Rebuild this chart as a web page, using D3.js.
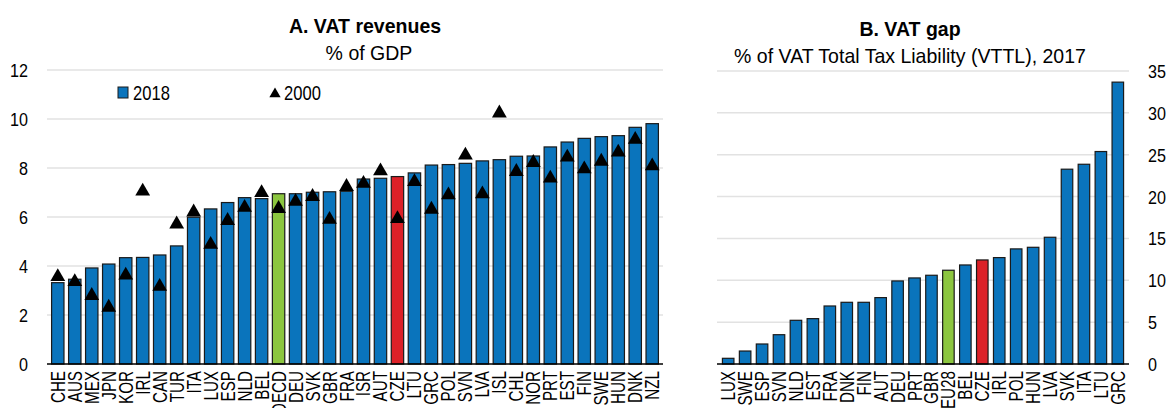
<!DOCTYPE html>
<html>
<head>
<meta charset="utf-8">
<script src="https://cdn.jsdelivr.net/npm/d3@7"></script>
<style>
  body { margin: 0; background: #fff; }
  svg text { font-family: "Liberation Sans", Arial, sans-serif; fill: #000; }
</style>
</head>
<body>
<div id="chart"></div>
<script>
// Panel A data
var countriesA = ["CHE","AUS","MEX","JPN","KOR","IRL","CAN","TUR","ITA","LUX","ESP","NLD","BEL","OECD","DEU","SVK","GBR","FRA","ISR","AUT","CZE","LTU","GRC","POL","SVN","LVA","ISL","CHL","NOR","PRT","EST","FIN","SWE","HUN","DNK","NZL"];
var vat2018 = [3.32,3.46,3.92,4.08,4.34,4.35,4.45,4.82,5.99,6.33,6.59,6.79,6.75,6.95,6.95,7.01,7.03,7.05,7.55,7.58,7.65,7.80,8.12,8.14,8.19,8.29,8.34,8.48,8.49,8.86,9.06,9.21,9.28,9.32,9.66,9.81];
var vat2000 = [3.56,3.36,2.79,2.31,3.62,7.05,3.16,5.71,6.20,4.88,5.85,6.39,6.99,6.34,6.63,6.83,5.90,7.24,7.37,7.88,5.93,7.44,6.31,6.90,8.52,6.94,10.24,7.85,8.22,7.58,8.44,7.96,8.27,8.64,9.16,8.08];
var ticksA = [0,2,4,6,8,10,12];

// Panel B data
var countriesB = ["LUX","SWE","ESP","SVN","NLD","EST","FRA","DNK","FIN","AUT","DEU","PRT","GBR","EU28","BEL","CZE","IRL","POL","HUN","LVA","SVK","ITA","LTU","GRC"];
var vatGap = [0.68,1.55,2.39,3.5,5.22,5.42,6.93,7.37,7.37,7.93,9.92,10.28,10.6,11.2,11.83,12.43,12.71,13.75,13.94,15.14,23.27,23.86,25.38,33.67];
var ticksB = [0,5,10,15,20,25,30,35];

var blue = "#0A74BC", green = "#8CC63F", red = "#DC2128";
function barColor(c) {
  if (c === "OECD" || c === "EU28") return green;
  if (c === "CZE") return red;
  return blue;
}

// narrow-looking text: no Arial Narrow here, so squeeze Liberation Sans
var sqTick = 0.85, sqLab = 0.78;

var svg = d3.select("#chart").append("svg")
  .attr("width", 1170)
  .attr("height", 408);

// ---------- Panel A ----------
var xA = d3.scaleBand().domain(countriesA).range([47, 663]).padding(0.27);
var yA = d3.scaleLinear().domain([0, 12]).range([364, 70]);

var gA = svg.append("g");

gA.selectAll(".grid").data(ticksA.slice(1)).enter().append("line")
  .attr("x1", 47).attr("x2", 663)
  .attr("y1", d => yA(d)).attr("y2", d => yA(d))
  .attr("stroke", "#e2e2e2").attr("stroke-width", 1.5);

gA.selectAll(".tick").data(ticksA).enter().append("text")
  .attr("transform", d => `translate(28,${yA(d) + 7}) scale(${sqTick},1)`)
  .attr("text-anchor", "end")
  .style("font-size", "19px")
  .text(d => d);

gA.selectAll(".bar").data(countriesA).enter().append("rect")
  .attr("x", d => xA(d))
  .attr("y", (d, i) => yA(vat2018[i]))
  .attr("width", xA.bandwidth())
  .attr("height", (d, i) => yA(0) - yA(vat2018[i]))
  .attr("fill", d => barColor(d))
  .attr("stroke", "#1a1a1a").attr("stroke-width", 1.2);

var tri = d3.symbol().type(d3.symbolTriangle).size(95);
gA.selectAll(".mark").data(countriesA).enter().append("path")
  .attr("d", tri)
  .attr("transform", (d, i) => `translate(${xA(d) + xA.bandwidth() / 2},${yA(vat2000[i])})`)
  .attr("fill", "#000");

gA.append("line")
  .attr("x1", 47).attr("x2", 663)
  .attr("y1", yA(0)).attr("y2", yA(0))
  .attr("stroke", "#000").attr("stroke-width", 1.5);

gA.selectAll(".xlab").data(countriesA).enter().append("text")
  .attr("transform", d => `translate(${xA(d) + xA.bandwidth() / 2 + 7},371) rotate(-90) scale(${sqLab},1)`)
  .attr("text-anchor", "end")
  .style("font-size", "19.5px")
  .text(d => d);

// legend
gA.append("rect").attr("x", 118).attr("y", 87).attr("width", 10).attr("height", 11)
  .attr("fill", blue).attr("stroke", "#1a1a1a").attr("stroke-width", 1);
gA.append("text").attr("transform", `translate(133,100) scale(${sqTick},1)`)
  .style("font-size", "19.5px").text("2018");
gA.append("path").attr("d", d3.symbol().type(d3.symbolTriangle).size(55))
  .attr("transform", "translate(275,94)").attr("fill", "#000");
gA.append("text").attr("transform", `translate(284,100) scale(${sqTick},1)`)
  .style("font-size", "19.5px").text("2000");

gA.append("text").attr("transform", "translate(365,33) scale(0.93,1)").attr("text-anchor", "middle")
  .style("font-size", "21px").style("font-weight", "bold").text("A. VAT revenues");
gA.append("text").attr("transform", "translate(369,60) scale(0.93,1)").attr("text-anchor", "middle")
  .style("font-size", "21px").text("% of GDP");

// ---------- Panel B ----------
var xB = d3.scaleBand().domain(countriesB).range([717, 1129]).padding(0.32);
var yB = d3.scaleLinear().domain([0, 35]).range([364, 71]);

var gB = svg.append("g");

gB.selectAll(".grid").data(ticksB.slice(1)).enter().append("line")
  .attr("x1", 717).attr("x2", 1129)
  .attr("y1", d => yB(d)).attr("y2", d => yB(d))
  .attr("stroke", "#e2e2e2").attr("stroke-width", 1.5);

gB.selectAll(".tick").data(ticksB).enter().append("text")
  .attr("transform", d => `translate(1148,${yB(d) + 7}) scale(${sqTick},1)`)
  .style("font-size", "19px")
  .text(d => d);

gB.selectAll(".bar").data(countriesB).enter().append("rect")
  .attr("x", d => xB(d))
  .attr("y", (d, i) => yB(vatGap[i]))
  .attr("width", xB.bandwidth())
  .attr("height", (d, i) => yB(0) - yB(vatGap[i]))
  .attr("fill", d => barColor(d))
  .attr("stroke", "#1a1a1a").attr("stroke-width", 1.2);

gB.append("line")
  .attr("x1", 717).attr("x2", 1129)
  .attr("y1", yB(0)).attr("y2", yB(0))
  .attr("stroke", "#000").attr("stroke-width", 1.5);

gB.selectAll(".xlab").data(countriesB).enter().append("text")
  .attr("transform", d => `translate(${xB(d) + xB.bandwidth() / 2 + 7},371) rotate(-90) scale(${sqLab},1)`)
  .attr("text-anchor", "end")
  .style("font-size", "19.5px")
  .text(d => d);

gB.append("text").attr("transform", "translate(910,36) scale(0.93,1)").attr("text-anchor", "middle")
  .style("font-size", "21px").style("font-weight", "bold").text("B. VAT gap");
gB.append("text").attr("transform", "translate(910,63) scale(0.93,1)").attr("text-anchor", "middle")
  .style("font-size", "21px").text("% of VAT Total Tax Liability (VTTL), 2017");
</script>
</body>
</html>
